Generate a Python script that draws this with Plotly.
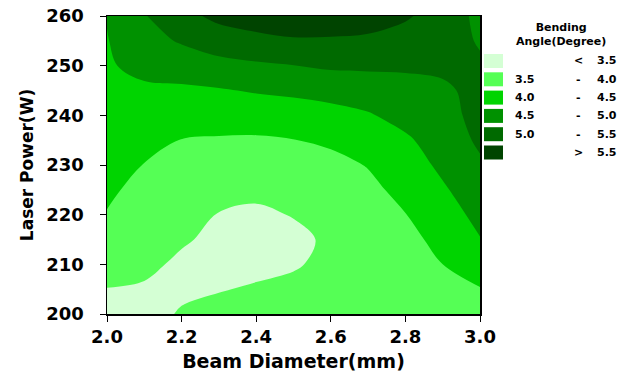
import plotly.graph_objects as go

# ---------------- data ----------------
beam_diameter = [2.0, 2.1, 2.2, 2.3, 2.4, 2.5, 2.6, 2.7, 2.8, 2.9, 3.0]
laser_power = [200, 205, 210, 215, 220, 225, 230, 235, 240, 245, 250, 255, 260]

# bending angle per beam diameter column (values bottom -> top along laser_power)
col_20 = [3.30, 3.49, 3.66, 3.82, 3.98, 4.07, 4.14, 4.21, 4.28, 4.36, 4.45, 4.48, 4.52]
col_21 = [3.30, 3.45, 3.60, 3.72, 3.80, 3.88, 3.99, 4.12, 4.26, 4.42, 4.63, 4.82, 4.97]
col_22 = [3.55, 3.40, 3.42, 3.55, 3.70, 3.80, 3.90, 3.99, 4.20, 4.43, 4.70, 5.05, 5.35]
col_23 = [3.62, 3.48, 3.38, 3.40, 3.48, 3.65, 3.80, 3.96, 4.20, 4.46, 4.85, 5.25, 5.62]
col_24 = [3.68, 3.54, 3.40, 3.35, 3.42, 3.60, 3.78, 3.95, 4.20, 4.54, 4.93, 5.36, 5.75]
col_25 = [3.75, 3.60, 3.46, 3.40, 3.52, 3.68, 3.82, 3.99, 4.25, 4.60, 4.99, 5.44, 5.85]
col_26 = [3.80, 3.70, 3.60, 3.57, 3.65, 3.76, 3.88, 4.07, 4.33, 4.68, 5.07, 5.44, 5.80]
col_27 = [3.85, 3.78, 3.72, 3.73, 3.80, 3.90, 4.02, 4.22, 4.46, 4.74, 5.08, 5.42, 5.70]
col_28 = [3.90, 3.85, 3.82, 3.88, 3.99, 4.12, 4.26, 4.43, 4.66, 4.88, 5.05, 5.30, 5.56]
col_29 = [3.95, 3.92, 4.00, 4.12, 4.27, 4.44, 4.60, 4.72, 4.83, 4.93, 5.08, 5.20, 5.28]
col_30 = [3.94, 3.98, 4.22, 4.48, 4.64, 4.78, 4.93, 5.08, 5.15, 5.12, 5.06, 4.96, 4.88]

columns = [col_20, col_21, col_22, col_23, col_24, col_25,
           col_26, col_27, col_28, col_29, col_30]
bending_angle = [[columns[j][i] for j in range(len(beam_diameter))]
                 for i in range(len(laser_power))]

levels = [3.5, 4.0, 4.5, 5.0, 5.5]
band_colors = ["#d4ffd4", "#55ff55", "#00d400", "#009100", "#006a00", "#004400"]
x_ticks = [2.0, 2.2, 2.4, 2.6, 2.8, 3.0]
y_ticks = [200, 210, 220, 230, 240, 250, 260]

# ---------------- figure ----------------
W, H = 629, 379
L, R, T, B = 107, 149, 16, 65
pw, ph = W - L - R, H - T - B

n = len(band_colors)
colorscale = [[i / (n - 1), c] for i, c in enumerate(band_colors)]

FONT = "DejaVu Sans"

fig = go.Figure()
fig.add_trace(go.Contour(
    x=beam_diameter, y=laser_power, z=bending_angle,
    contours=dict(start=levels[0], end=levels[-1],
                  size=levels[1] - levels[0],
                  coloring="fill", showlines=False),
    line=dict(width=0, smoothing=1),
    colorscale=colorscale, showscale=False,
    hoverinfo="skip",
))

axis_common = dict(
    showline=True, linecolor="black", linewidth=1.5, mirror=True,
    showgrid=False, zeroline=False,
    ticks="outside", ticklen=6, tickcolor="black", tickwidth=1,
    tickfont=dict(family=FONT, size=18, color="black", weight="bold"),
)

fig.update_xaxes(
    range=[2.0, 3.0], tickvals=x_ticks,
    ticktext=[f"{v:.1f}" for v in x_ticks],
    title=dict(text="Beam Diameter(mm)", standoff=8,
               font=dict(family=FONT, size=19, color="black", weight="bold")),
    **axis_common,
)
fig.update_yaxes(
    range=[200, 260], tickvals=y_ticks,
    ticktext=[str(v) for v in y_ticks],
    ticklabelstandoff=12,
    title=dict(text="Laser Power(W)", standoff=8,
               font=dict(family=FONT, size=17, color="black", weight="bold")),
    **axis_common,
)

# ---------------- custom legend ----------------
def px_x(p):
    return (p - L) / pw

def px_y(p):
    return (H - B - p) / ph

leg_font = dict(family=FONT, size=11, color="black", weight="bold")
shapes = []
annotations = [
    dict(text="Bending<br>Angle(Degree)", x=px_x(561), y=px_y(34),
         xref="paper", yref="paper", showarrow=False, align="center",
         xanchor="center", yanchor="middle", font=leg_font),
]
row_y0 = 61
row_dy = 18.3
for i, col in enumerate(band_colors):
    cy = row_y0 + i * row_dy
    shapes.append(dict(type="rect", xref="paper", yref="paper",
                       x0=px_x(484), x1=px_x(503),
                       y0=px_y(cy + 7), y1=px_y(cy - 7),
                       fillcolor=col, line=dict(width=0)))
    if i == 0:
        left, mid, right = "", "<", f"{levels[0]:.1f}"
    elif i == n - 1:
        left, mid, right = "", ">", f"{levels[-1]:.1f}"
    else:
        left, mid, right = f"{levels[i-1]:.1f}", "-", f"{levels[i]:.1f}"
    for txt, xx, anc in [(left, 513, "left"), (mid, 578, "center"), (right, 595, "left")]:
        if txt:
            annotations.append(dict(text=txt, x=px_x(xx), y=px_y(cy),
                                    xref="paper", yref="paper", showarrow=False,
                                    xanchor=anc, yanchor="middle", font=leg_font))

fig.update_layout(
    width=W, height=H,
    margin=dict(l=L, r=R, t=T, b=B, autoexpand=False),
    paper_bgcolor="white", plot_bgcolor="white",
    shapes=shapes, annotations=annotations,
    showlegend=False,
)

fig.write_html(
    "out.html",
    config={"displayModeBar": False, "staticPlot": True},
    post_script="document.body.style.margin='0';document.body.style.overflow='hidden';",
)
